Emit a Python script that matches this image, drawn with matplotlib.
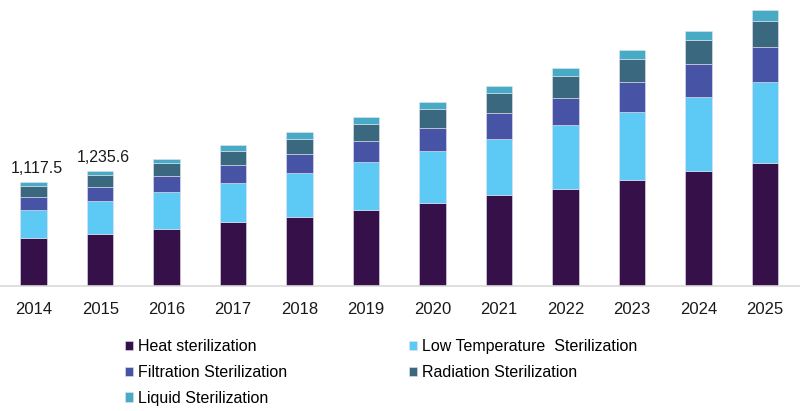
"""
Sterilization market by type, 2014-2025 (stacked bars)
"""

import matplotlib
matplotlib.use("Agg")
import matplotlib.pyplot as plt
import numpy as np

# ── data ──────────────────────────────────────────────
YEARS = ["2014", "2015", "2016", "2017", "2018", "2019",
         "2020", "2021", "2022", "2023", "2024", "2025"]

HEAT = [510.5, 554.6, 612, 688, 745, 817, 890, 976, 1048, 1138, 1239, 1325]
LOW_TEMP = [302, 363, 396, 421, 475, 522, 568, 611, 685, 741, 799, 875]
FILTRATION = [147, 148, 176, 191, 205, 220, 245, 278, 295, 321, 349, 378]
RADIATION = [115, 130, 144, 158, 162, 190, 205, 219, 230, 248, 264, 273]
LIQUID = [43, 40, 40, 58, 76, 72, 72, 72, 86, 97, 100, 119]

TOTAL_LABELS = {0: "1,117.5", 1: "1,235.6"}

SERIES = [
    ("Heat sterilization", HEAT, "#361048"),
    ("Low Temperature  Sterilization", LOW_TEMP, "#5CCAF4"),
    ("Filtration Sterilization", FILTRATION, "#4753A4"),
    ("Radiation Sterilization", RADIATION, "#3A687F"),
    ("Liquid Sterilization", LIQUID, "#48ABC6"),
]


def main():
    plt.rcParams["font.family"] = ["Liberation Sans", "DejaVu Sans"]

    fig = plt.figure(figsize=(8.0, 4.11), dpi=100)
    ax = fig.add_axes([0.0, 0.305, 1.0, 0.695])

    x = np.arange(len(YEARS))
    bottom = np.zeros(len(YEARS))
    handles = {}
    for name, vals, color in SERIES:
        vals = np.array(vals, dtype=float)
        bars = ax.bar(x, vals, width=0.4, bottom=bottom, color=color,
                      edgecolor="#e6e2ee", linewidth=0.4, label=name, zorder=2)
        handles[name] = bars
        bottom += vals

    for i, txt in TOTAL_LABELS.items():
        ax.annotate(txt, (x[i], bottom[i]), xytext=(2, 6.5),
                    textcoords="offset points", ha="center", va="baseline",
                    fontsize=11.5, color="#1a1a1a")

    ax.set_xlim(-0.507, 11.526)
    ax.set_ylim(0, 3083)
    for side in ["top", "left", "right"]:
        ax.spines[side].set_visible(False)
    ax.spines["bottom"].set_color("#d9d9d9")
    ax.spines["bottom"].set_linewidth(1.2)
    ax.set_yticks([])
    ax.set_xticks(x)
    ax.set_xticklabels(YEARS, fontsize=12, color="#1a1a1a")
    ax.tick_params(axis="x", length=0, pad=11.5)

    # legend: two columns, filled row by row
    col1 = ["Heat sterilization", "Filtration Sterilization", "Liquid Sterilization"]
    col2 = ["Low Temperature  Sterilization", "Radiation Sterilization"]
    common = dict(loc="upper left", frameon=False, fontsize=11.5,
                  handlelength=0.5, handleheight=0.5, handletextpad=0.3,
                  labelspacing=0.68, borderpad=0, borderaxespad=0)
    fig.legend([handles[n] for n in col1], col1,
               bbox_to_anchor=(125 / 800, 1 - 339 / 411), **common)
    fig.legend([handles[n] for n in col2], col2,
               bbox_to_anchor=(409 / 800, 1 - 339 / 411), **common)

    fig.savefig("out.png", dpi=100)
    plt.close(fig)


if __name__ == "__main__":
    main()
